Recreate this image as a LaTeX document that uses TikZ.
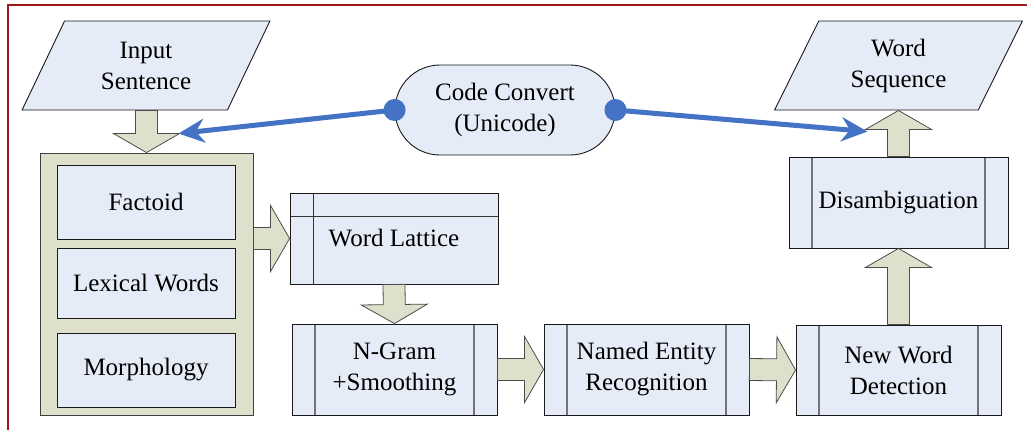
\documentclass[tikz,border=0pt]{standalone}
\usepackage{fontspec}
\setmainfont{Liberation Serif}
\usetikzlibrary{arrows.meta,shapes.geometric,shapes.misc,calc}
\definecolor{boxfill}{HTML}{E6ECF7}
\definecolor{olive}{HTML}{DDE1CB}
\definecolor{wine}{HTML}{9E1A1A}
\definecolor{blu}{HTML}{4472C4}

\tikzset{
  base/.style={draw=black!90,line width=0.9pt,fill=boxfill,align=center,inner sep=0pt},
  iobox/.style={base,trapezium,trapezium left angle=63.7,trapezium right angle=116.3,
    trapezium stretches=true,minimum width=248pt,minimum height=89pt},
  procbox/.style={base,path picture={
    \draw[black!55,line width=1.3pt]
      ([xshift=23pt]path picture bounding box.north west) -- ([xshift=23pt]path picture bounding box.south west)
      ([xshift=-23pt]path picture bounding box.north east) -- ([xshift=-23pt]path picture bounding box.south east);}},
  storebox/.style={base,path picture={
    \draw[black!80,line width=0.9pt]
      ([xshift=23pt]path picture bounding box.north west) -- ([xshift=23pt]path picture bounding box.south west)
      ([yshift=-23pt]path picture bounding box.north west) -- ([yshift=-23pt]path picture bounding box.north east);}},
  fatarr/.style={fill=olive,draw=black!70,line width=0.8pt,line join=miter},
  link/.style={blu,line width=5pt,-{Stealth[length=26pt,width=24pt]}},
}

% thick block arrow from #1 to #2
\newcommand{\fatarrow}[2]{%
  \path ($(#2)!19pt!(#1)$) coordinate (hb);
  \draw[fatarr] ($(#1)!11pt!90:(#2)$) -- ($(hb)!11pt!-90:(#1)$) -- ($(hb)!33pt!-90:(#1)$) -- (#2)
    -- ($(hb)!33pt!90:(#1)$) -- ($(hb)!11pt!90:(#1)$) -- ($(#1)!11pt!-90:(#2)$) -- cycle;}

\begin{document}
\begin{tikzpicture}[x=1pt,y=-1pt,font=\fontsize{25}{31}\selectfont]
\useasboundingbox (0,0) rectangle (1027,429);
% frame
\draw[wine,line width=2pt] (1040,5) -- (8,5) -- (8,440);

% input and output
\node[iobox] (insen) at (146,65.5) {Input\\Sentence};
\node[iobox] (wordseq) at (898.5,65.5) {Word\\Sequence};
\node[base,rounded rectangle,minimum width=220pt,minimum height=90pt] (cc) at (505,110) {Code Convert\\(Unicode)};

% preprocessing block
\node[base,fill=olive,draw=black!75,minimum width=213pt,minimum height=262pt] (prep) at (146.5,284) {};
\node[base,minimum width=178pt,minimum height=74pt] (fact) at (146,202) {Factoid};
\node[base,minimum width=178pt,minimum height=70pt] (lex) at (146,283) {Lexical Words};
\node[base,minimum width=178pt,minimum height=74pt] (morph) at (146,370) {Morphology};

% processing chain
\node[storebox,minimum width=208pt,minimum height=91pt] (lattice) at (394,238.5) {Word Lattice};
\node[procbox,minimum width=205pt,minimum height=91pt] (ngram) at (394.5,369.5) {N-Gram\\+Smoothing};
\node[procbox,minimum width=205pt,minimum height=91pt] (ner) at (646.5,369.5) {Named Entity\\Recognition};
\node[procbox,minimum width=205pt,minimum height=90pt] (newword) at (898.5,370) {New Word\\Detection};
\node[procbox,minimum width=219pt,minimum height=91pt] (disamb) at (898.5,202.5) {Disambiguation};

% block arrows
\coordinate (insenb) at (prep.north |- insen.bottom left corner);
\coordinate (prepr) at (prep.east |- lattice.west);
\coordinate (wordseqb) at (disamb.north |- wordseq.bottom left corner);
\fatarrow{insenb}{prep.north}
\fatarrow{prepr}{lattice.west}
\fatarrow{lattice.south}{ngram.north}
\fatarrow{ngram.east}{ner.west}
\fatarrow{ner.east}{newword.west}
\fatarrow{newword.north}{disamb.south}
\fatarrow{disamb.north}{wordseqb}

% code conversion links
\coordinate (cin) at ($(prep.north)+(32,-19)$);
\coordinate (cout) at ($(disamb.north)+(-31,-25)$);
\draw[link] (cc.west) -- (cin);
\draw[link] (cc.east) -- (cout);
\fill[blu] (cc.west) circle (11pt);
\fill[blu] (cc.east) circle (11pt);
\end{tikzpicture}
\end{document}
